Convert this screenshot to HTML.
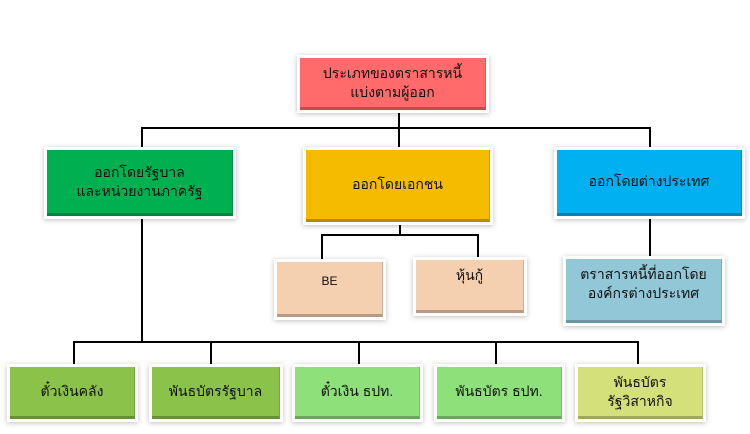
<!DOCTYPE html>
<html><head><meta charset="utf-8"><style>
body{margin:0;width:750px;height:434px;background:#fff;position:relative;overflow:hidden;font-family:"Liberation Sans","DejaVu Sans",sans-serif;}
.b{position:absolute;display:flex;align-items:center;justify-content:center;text-align:center;box-sizing:border-box;font-size:14px;line-height:19px;color:#111;box-shadow:0 0 0 3px #fff,0 1px 5px 3px rgba(0,0,0,.25);border-bottom:3px solid rgba(0,0,0,.25);border-right:1px solid rgba(0,0,0,.15);}
.l{position:absolute;background:#000;}
</style></head><body>
<div class="l" style="left:398px;top:110px;width:2px;height:40px"></div>
<div class="l" style="left:141px;top:127px;width:510px;height:2px"></div>
<div class="l" style="left:141px;top:127px;width:2px;height:23px"></div>
<div class="l" style="left:649px;top:127px;width:2px;height:23px"></div>
<div class="l" style="left:141px;top:216px;width:2px;height:127px"></div>
<div class="l" style="left:73px;top:341px;width:566px;height:2px"></div>
<div class="l" style="left:73px;top:341px;width:2px;height:26px"></div>
<div class="l" style="left:210px;top:341px;width:2px;height:26px"></div>
<div class="l" style="left:358px;top:341px;width:2px;height:26px"></div>
<div class="l" style="left:495px;top:341px;width:2px;height:26px"></div>
<div class="l" style="left:637px;top:341px;width:2px;height:26px"></div>
<div class="l" style="left:399px;top:222px;width:2px;height:13px"></div>
<div class="l" style="left:321px;top:234px;width:158px;height:2px"></div>
<div class="l" style="left:321px;top:234px;width:2px;height:28px"></div>
<div class="l" style="left:477px;top:234px;width:2px;height:26px"></div>
<div class="l" style="left:649px;top:216px;width:2px;height:43px"></div>

<div class="b" style="left:300px;top:58px;width:186px;height:52px;background:#ff6b6b">ประเภทของตราสารหนี้<br>แบ่งตามผู้ออก</div>
<div class="b" style="left:47px;top:150px;width:186px;height:66px;background:#00b050">ออกโดยรัฐบาล<br>และหน่วยงานภาครัฐ</div>
<div class="b" style="left:306px;top:150px;width:184px;height:72px;background:#f5bb00">ออกโดยเอกชน</div>
<div class="b" style="left:557px;top:150px;width:185px;height:66px;background:#00b0f0">ออกโดยต่างประเทศ</div>
<div class="b" style="left:277px;top:262px;width:106px;height:55px;background:#f4cfb0;font-size:12px;align-items:flex-start;padding-top:10px">BE</div>
<div class="b" style="left:416px;top:260px;width:108px;height:53px;background:#f4cfb0;align-items:flex-start;padding-top:6px">หุ้นกู้</div>
<div class="b" style="left:566px;top:259px;width:156px;height:64px;background:#92c7d8;align-items:flex-start;padding-top:6px">ตราสารหนี้ที่ออกโดย<br>องค์กรต่างประเทศ</div>
<div class="b" style="left:10px;top:367px;width:125px;height:52px;background:#8bc34a">ตั๋วเงินคลัง</div>
<div class="b" style="left:152px;top:367px;width:128px;height:52px;background:#8bc34a">พันธบัตรรัฐบาล</div>
<div class="b" style="left:295px;top:367px;width:125px;height:52px;background:#8ee07a">ตั๋วเงิน ธปท.</div>
<div class="b" style="left:437px;top:367px;width:125px;height:52px;background:#8ee07a">พันธบัตร ธปท.</div>
<div class="b" style="left:578px;top:367px;width:125px;height:52px;background:#d4e07a">พันธบัตร<br>รัฐวิสาหกิจ</div>
</body></html>
